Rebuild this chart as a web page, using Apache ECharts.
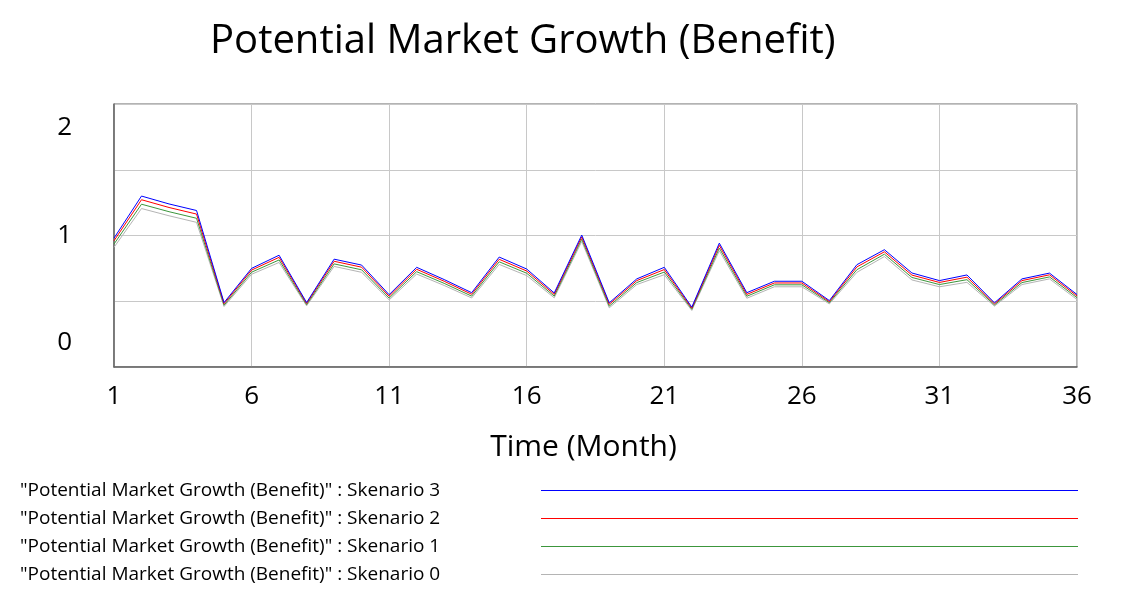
<!DOCTYPE html>
<html>
<head>
<meta charset="utf-8">
<script src="https://cdn.jsdelivr.net/npm/echarts@6/dist/echarts.min.js"></script>
<style>html,body{margin:0;padding:0;background:#fff}#c{width:1134px;height:602px}</style>
</head>
<body>
<div id="c"></div>
<script>
var months = [1,2,3,4,5,6,7,8,9,10,11,12,13,14,15,16,17,18,19,20,21,22,23,24,25,26,27,28,29,30,31,32,33,34,35,36];
var yTickLabels = ['0', '1', '2'];
var seriesNames = [
  '"Potential Market Growth (Benefit)" : Skenario 0',
  '"Potential Market Growth (Benefit)" : Skenario 1',
  '"Potential Market Growth (Benefit)" : Skenario 2',
  '"Potential Market Growth (Benefit)" : Skenario 3'
];
var skenario0 = [0.91,1.205,1.15,1.10,0.46,0.705,0.795,0.465,0.765,0.72,0.51,0.707,0.62,0.525,0.78,0.695,0.526,0.955,0.45,0.627,0.702,0.43,0.884,0.523,0.61,0.61,0.48,0.72,0.84,0.662,0.61,0.644,0.463,0.627,0.67,0.513];
var skenario1 = [0.935,1.238,1.181,1.131,0.47,0.721,0.814,0.474,0.784,0.739,0.524,0.725,0.636,0.539,0.80,0.713,0.539,0.972,0.463,0.642,0.722,0.439,0.904,0.538,0.625,0.625,0.489,0.74,0.858,0.681,0.627,0.664,0.472,0.642,0.685,0.527];
var skenario2 = [0.96,1.272,1.213,1.163,0.481,0.737,0.834,0.483,0.804,0.759,0.538,0.743,0.652,0.553,0.819,0.73,0.552,0.989,0.477,0.657,0.741,0.447,0.925,0.552,0.639,0.639,0.497,0.761,0.876,0.699,0.643,0.683,0.48,0.657,0.701,0.54];
var skenario3 = [0.98,1.30,1.24,1.19,0.49,0.75,0.85,0.49,0.82,0.775,0.55,0.758,0.665,0.565,0.836,0.745,0.563,1.003,0.488,0.67,0.758,0.455,0.942,0.565,0.652,0.652,0.505,0.778,0.892,0.715,0.657,0.70,0.488,0.67,0.714,0.551];

var FONT = '"Open Sans"';
var colors = ['#b4b4b4', '#3c963c', '#ff0000', '#0000ff'];
var allData = [skenario0, skenario1, skenario2, skenario3];

var chart = echarts.init(document.getElementById('c'));
var series = allData.map(function (d, i) {
  return {
    name: seriesNames[i],
    type: 'line',
    data: d,
    symbol: 'none',
    silent: true,
    color: colors[i],
    lineStyle: { width: 1, color: colors[i] },
    itemStyle: { color: colors[i], borderColor: colors[i] }
  };
});

var legendTops = [565, 537, 509, 481]; // skenario 0..3 (3 on top)
var legends = seriesNames.map(function (n, i) {
  return {
    data: [n],
    left: 20,
    top: legendTops[i],
    padding: 0,
    align: 'right',
    icon: 'rect',
    itemWidth: 537,
    itemHeight: 1,
    selectedMode: false,
    itemStyle: { color: colors[i], borderColor: colors[i], borderWidth: 0 },
    lineStyle: { color: colors[i], width: 1 },
    formatter: function (name) { return '{n|' + name + '}'; },
    textStyle: {
      fontFamily: FONT,
      fontSize: 19,
      color: '#000',
      rich: { n: { width: 516, align: 'left', fontFamily: FONT, fontSize: 19, color: '#000' } }
    }
  };
});

chart.setOption({
  animation: false,
  backgroundColor: '#fff',
  title: {
    text: 'Potential Market Growth (Benefit)',
    left: 205,
    top: 17,
    textStyle: { fontFamily: FONT, fontSize: 40, fontWeight: 'normal', color: '#000' }
  },
  legend: legends,
  grid: {
    left: 114, right: 57, top: 104, bottom: 235,
    show: true, borderColor: '#666', borderWidth: 1
  },
  xAxis: {
    type: 'category',
    data: months,
    boundaryGap: false,
    name: 'Time (Month)',
    nameLocation: 'middle',
    nameGap: 65,
    nameTextStyle: { fontFamily: FONT, fontSize: 30, color: '#000', padding: [0, 24, 0, 0] },
    axisLine: { lineStyle: { color: '#666', width: 1.5 } },
    axisTick: { show: false },
    axisLabel: { interval: 4, fontFamily: FONT, fontSize: 26, color: '#000', margin: 17 },
    splitLine: { show: true, interval: 4, lineStyle: { color: '#c8c8c8', width: 1 } }
  },
  yAxis: {
    type: 'value',
    min: 0, max: 2, interval: 0.5,
    axisLine: { show: true, lineStyle: { color: '#666', width: 1.5 } },
    axisTick: { show: false },
    splitLine: { show: true, lineStyle: { color: '#c8c8c8', width: 1 } },
    axisLabel: {
      margin: 42,
      fontFamily: FONT, fontSize: 26, color: '#000',
      formatter: function (v) {
        if (v === 2) return '{t|' + yTickLabels[2] + '}';
        if (v === 1) return yTickLabels[1];
        if (v === 0) return '{b|' + yTickLabels[0] + '}';
        return '';
      },
      rich: {
        t: { padding: [48, 0, 0, 0], fontFamily: FONT, fontSize: 26, color: '#000' },
        b: { padding: [0, 0, 48, 0], fontFamily: FONT, fontSize: 26, color: '#000' }
      }
    }
  },
  series: series
});
</script>
</body>
</html>
